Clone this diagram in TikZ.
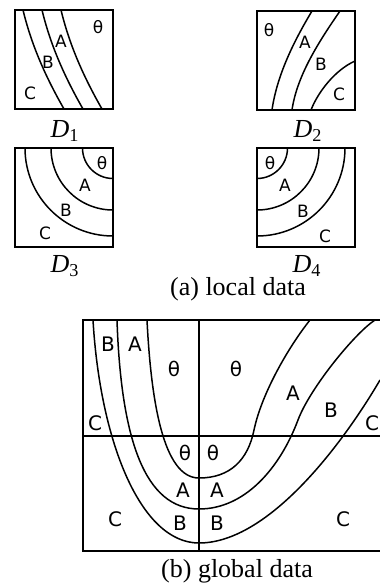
\documentclass[tikz,border=0pt]{standalone}
\usepackage{fontspec}
\setmainfont{Liberation Serif}
\newfontfamily\lblfont{DejaVu Sans}

\begin{document}
\begin{tikzpicture}[
    x=0.5pt, y=-0.5pt,
    font=\fontsize{13}{15}\selectfont,
    frame/.style={draw=black, line width=1pt},
    band/.style={draw=black, line width=0.75pt},
    lbl/.style={font=\lblfont\fontsize{8.5}{10}\selectfont, inner sep=0pt},
    glbl/.style={font=\lblfont\fontsize{10}{12}\selectfont, inner sep=0pt},
    capt/.style={inner sep=0pt},
  ]
  \useasboundingbox (0,0) rectangle (380,586);

  % Local data: D1, curves falling to the right.
  \foreach \d in {0,19,38}
    \draw[band] (23+\d,10) .. controls (31+\d,43) and (44+\d,74) .. (64+\d,109);

  % D2: curves rising to the right.
  \draw[band] (272,110) .. controls (277,75) and (294,41) .. (312,11);
  \draw[band] (292,110) .. controls (297,75) and (320,40) .. (340,11);
  \draw[band] (311,110) .. controls (318,92) and (335,70) .. (355,61);

  % D3 and D4: quarter circles round a top corner.
  \foreach \cx/\x in {113/15, 257/257} {
    \begin{scope}
      \clip (\x,148) rectangle ++(98,99);
      \foreach \r in {15.25pt, 31pt, 44pt}
        \draw[band] (\cx,148) circle[radius=\r];
    \end{scope}
  }

  \foreach \n/\x/\y in {1/15/10, 2/257/11, 3/15/148, 4/257/148}
    \draw[frame] (\x,\y) rectangle ++(98,99);

  \foreach \n/\l/\x/\y in {
      t1/θ/98/27, a1/A/61/41, b1/B/48/62, c1/C/30/93,
      t2/θ/269/30, a2/A/305/42, b2/B/321/64, c2/C/339/94,
      t3/θ/102/163, a3/A/85/185, b3/B/66/210, c3/C/45/233,
      t4/θ/270/163, a4/A/285/185, b4/B/303/211, c4/C/325/236}
    \node[lbl] (\n) at (\x,\y) {\l};

  \node[capt] (d1) at (65,131) {\textit{D}\textsubscript{1}};
  \node[capt] (d2) at (308,131) {\textit{D}\textsubscript{2}};
  \node[capt] (d3) at (65,266) {\textit{D}\textsubscript{3}};
  \node[capt] (d4) at (307,266) {\textit{D}\textsubscript{4}};
  \node[capt] (locl) at (238,289) {(a) local data};

  % Global data: one frame cut in four, three U-shaped curves.
  \draw[frame] (380,320) -- (83,320) -- (83,551) -- (380,551);
  \draw[frame] (199,320) -- (199,551);
  \draw[frame] (83,436) -- (380,436);

  \draw[band] (147,320) .. controls (151,400) and (163,478) .. (199,478)
    .. controls (230,478) and (248,460) .. (254,430)
    .. controls (262,392) and (290,345) .. (310,320);
  \draw[band] (117,320) .. controls (121,440) and (145,509) .. (199,509)
    .. controls (245,509) and (280,468) .. (298,420)
    .. controls (310,388) and (355,333) .. (375,320);
  \draw[band] (93,320) .. controls (100,440) and (140,543) .. (199,543)
    .. controls (270,543) and (345,440) .. (380,380);

  \foreach \n/\l/\x/\y in {
      gb1/B/108/344, ga1/A/135/344, gt1/θ/174/369, gc1/C/95/423,
      gt2/θ/236/369, ga2/A/293/393, gb2/B/331/410, gc2/C/372/423,
      gt3/θ/185/453, gt4/θ/213/453,
      ga3/A/183/490, ga4/A/217/490, gb3/B/180/523, gb4/B/217/523,
      gc3/C/115/519, gc4/C/343/519}
    \node[glbl] (\n) at (\x,\y) {\l};

  \node[capt] (glob) at (237,571) {(b) global data};
\end{tikzpicture}
\end{document}
